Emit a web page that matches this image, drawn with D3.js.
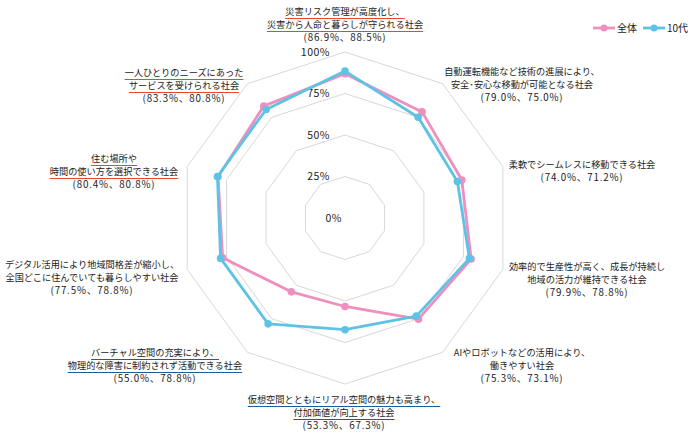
<!DOCTYPE html>
<html>
<head>
<meta charset="utf-8">
<script src="https://cdn.jsdelivr.net/npm/d3@7"></script>
<style>
  html, body { margin: 0; padding: 0; background: #fff; }
  svg { display: block; font-family: "Noto Sans CJK JP", "Noto Sans", sans-serif; }
</style>
</head>
<body>
<script>
const width = 697;
const height = 435;

// categories, clockwise from the top
const categories = [
    ["災害リスク管理が高度化し、", "災害から人命と暮らしが守られる社会"],
    ["自動運転機能など技術の進展により、", "安全･安心な移動が可能となる社会"],
    ["柔軟でシームレスに移動できる社会"],
    ["効率的で生産性が高く、成長が持続し", "地域の活力が維持できる社会"],
    ["AIやロボットなどの活用により、", "働きやすい社会"],
    ["仮想空間とともにリアル空間の魅力も高まり、", "付加価値が向上する社会"],
    ["バーチャル空間の充実により、", "物理的な障害に制約されず活動できる社会"],
    ["デジタル活用により地域間格差が縮小し、", "全国どこに住んでいても暮らしやすい社会"],
    ["住む場所や", "時間の使い方を選択できる社会"],
    ["一人ひとりのニーズにあった", "サービスを受けられる社会"]
];
const valuesAll  = [86.9, 79.0, 74.0, 79.9, 75.3, 53.3, 55.0, 77.5, 80.4, 83.3];
const valuesTeen = [88.5, 75.0, 71.2, 78.8, 73.1, 67.3, 78.8, 78.8, 80.8, 80.8];
// which labels are underlined: "r" red, "b" blue, "" none
const underline = ["r", "", "", "", "", "b", "b", "", "r", "r"];
const ticks = [0, 25, 50, 75, 100];
const seriesNames = ["全体", "10代"];

// layout (label block centres, first-line y)
const labelSpots = [
    [345, 12], [522, 72], [582, 165], [587, 267], [522, 353],
    [344, 400], [155, 353], [92, 265], [114, 159], [184, 73]
];

const colors = ["#ef8fbe", "#5cc3e6"];
const ulColors = { r: "#e5482b", b: "#1e5b9c" };

const cx = 345, cy = 218, R = 166;
const n = categories.length;

const svg = d3.select("body").append("svg")
    .attr("width", width)
    .attr("height", height);

const r = d3.scaleLinear().domain([0, 100]).range([0, R]);
const angle = i => i * 2 * Math.PI / n;

const g = svg.append("g").attr("transform", `translate(${cx},${cy})`);

// grid rings
const ring = d3.lineRadial()
    .angle((d, i) => angle(i))
    .radius(d => r(d))
    .curve(d3.curveLinearClosed);

g.append("g").attr("class", "grid")
    .selectAll("path")
    .data(ticks.filter(t => t > 0))
    .enter().append("path")
    .attr("d", t => ring(d3.range(n).map(() => t)))
    .attr("fill", "none")
    .attr("stroke", "#d8d8d8")
    .attr("stroke-width", 1);

// tick labels
g.append("g").attr("class", "tick-labels")
    .selectAll("text")
    .data(ticks)
    .enter().append("text")
    .attr("x", t => t === 0 ? -3 : -15)
    .attr("y", t => -r(t))
    .attr("dy", "0.35em")
    .attr("text-anchor", "end")
    .style("font-size", "10.5px")
    .style("letter-spacing", "0.5px")
    .style("fill", "#222")
    .text(t => t + "%");

// series
const series = [valuesAll, valuesTeen];
series.forEach((vals, s) => {
    const sg = g.append("g").attr("class", "series-" + s);
    sg.append("path")
        .attr("d", ring(vals))
        .attr("fill", "none")
        .attr("stroke", colors[s])
        .attr("stroke-width", 2.8)
        .attr("stroke-linejoin", "round");
    sg.selectAll("circle")
        .data(vals)
        .enter().append("circle")
        .attr("cx", (d, i) => r(d) * Math.sin(angle(i)))
        .attr("cy", (d, i) => -r(d) * Math.cos(angle(i)))
        .attr("r", 3.8)
        .attr("fill", colors[s]);
});

// category labels
const lineH = 13;
const labels = svg.append("g").attr("class", "cat-labels");
categories.forEach((lines, i) => {
    const [lx, ly] = labelSpots[i];
    const all = lines.concat([`(${valuesAll[i].toFixed(1)}%、${valuesTeen[i].toFixed(1)}%)`]);
    all.forEach((t, k) => {
        const isPct = k === lines.length;
        const txt = labels.append("text")
            .attr("x", lx)
            .attr("y", ly + k * lineH)
            .attr("dy", "0.35em")
            .attr("text-anchor", "middle")
            .style("font-size", isPct ? "9.8px" : "9.2px")
            .style("letter-spacing", isPct ? "0.8px" : "0px")
            .style("fill", "#222")
            .text(t);
        if (underline[i] && !isPct) {
            const w = txt.node().getComputedTextLength();
            labels.append("line")
                .attr("x1", lx - w / 2)
                .attr("x2", lx + w / 2)
                .attr("y1", ly + k * lineH + 6.5)
                .attr("y2", ly + k * lineH + 6.5)
                .attr("stroke", ulColors[underline[i]])
                .attr("stroke-width", 1.2);
        }
    });
});

// legend
const legend = svg.append("g").attr("class", "legend")
    .attr("transform", "translate(593,28)");
seriesNames.forEach((name, s) => {
    const lg = legend.append("g").attr("transform", `translate(${s * 50},0)`);
    lg.append("line")
        .attr("x1", 0).attr("x2", 22)
        .attr("stroke", colors[s])
        .attr("stroke-width", 2.8);
    lg.append("circle")
        .attr("cx", 11).attr("r", 3.5)
        .attr("fill", colors[s]);
    lg.append("text")
        .attr("x", 24)
        .attr("dy", "0.35em")
        .style("font-size", "10px")
        .style("fill", "#222")
        .text(name);
});
</script>
</body>
</html>
